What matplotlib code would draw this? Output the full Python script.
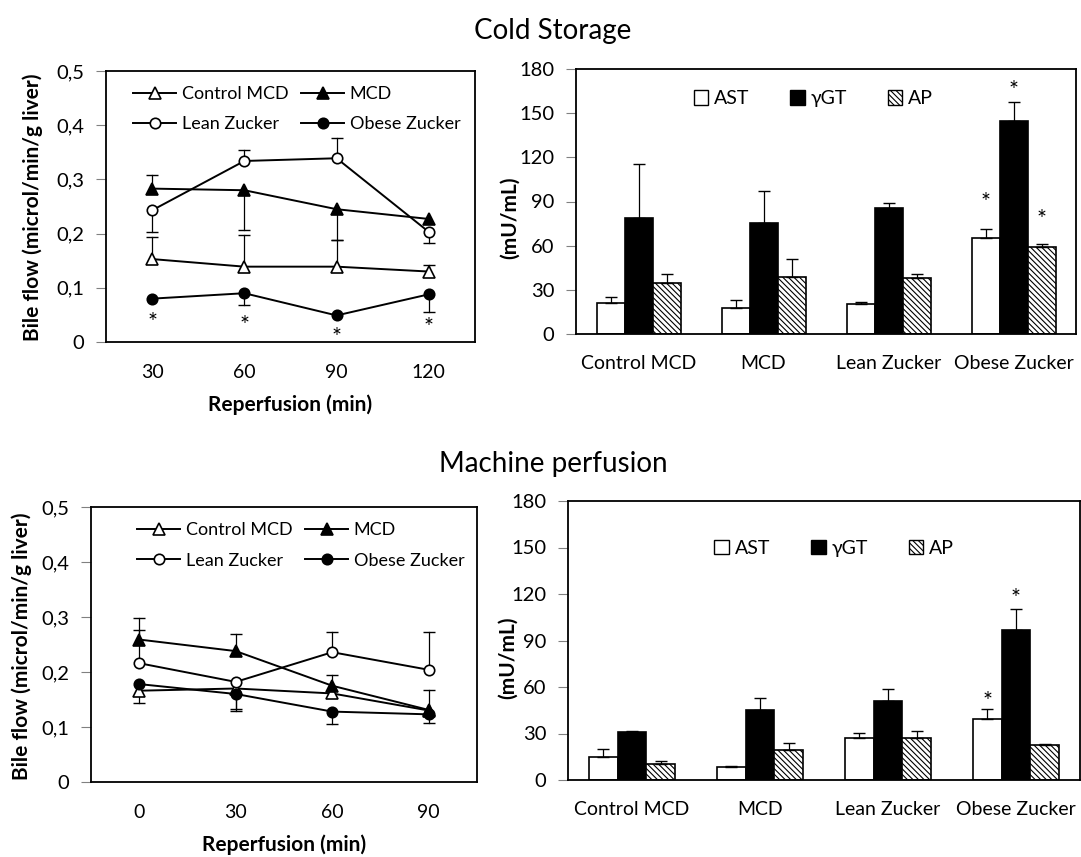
import numpy as np
import matplotlib
matplotlib.use("Agg")
import matplotlib.pyplot as plt
from matplotlib.ticker import FuncFormatter

plt.rcParams['font.family'] = ['Lato', 'DejaVu Sans']
plt.rcParams['hatch.linewidth'] = 0.8

# =========================
# DATA
# =========================
groups = ["Control MCD", "MCD", "Lean Zucker", "Obese Zucker"]
line_markers = {"Control MCD": ("^", "white"), "MCD": ("^", "black"),
                "Lean Zucker": ("o", "white"), "Obese Zucker": ("o", "black")}

# Cold storage bile flow
cs_times = ["30", "60", "90", "120"]
cs_flow = {
    "Control MCD": [0.153, 0.139, 0.139, 0.130],
    "MCD": [0.283, 0.280, 0.245, 0.227],
    "Lean Zucker": [0.243, 0.334, 0.339, 0.203],
    "Obese Zucker": [0.080, 0.090, 0.049, 0.088],
}
cs_err_up = {
    "Control MCD": [0.040, 0.058, 0.049, 0.012],
    "MCD": [0.025, 0.0, 0.0, 0.0],
    "Lean Zucker": [0.0, 0.021, 0.037, 0.0],
    "Obese Zucker": [0.0, 0.0, 0.0, 0.0],
}
cs_err_down = {
    "Control MCD": [0.0, 0.0, 0.0, 0.0],
    "MCD": [0.0, 0.073, 0.057, 0.0],
    "Lean Zucker": [0.040, 0.0, 0.0, 0.020],
    "Obese Zucker": [0.0, 0.021, 0.0, 0.033],
}
cs_star_y = [0.046, 0.040, 0.018, 0.037]

# Machine perfusion bile flow
mp_times = ["0", "30", "60", "90"]
mp_flow = {
    "Control MCD": [0.166, 0.170, 0.161, 0.130],
    "MCD": [0.259, 0.238, 0.175, 0.131],
    "Lean Zucker": [0.216, 0.182, 0.236, 0.204],
    "Obese Zucker": [0.178, 0.160, 0.128, 0.123],
}
mp_err_up = {
    "Control MCD": [0.0, 0.0, 0.0, 0.0],
    "MCD": [0.039, 0.031, 0.020, 0.037],
    "Lean Zucker": [0.060, 0.0, 0.037, 0.069],
    "Obese Zucker": [0.0, 0.0, 0.0, 0.0],
}
mp_err_down = {
    "Control MCD": [0.022, 0.0, 0.0, 0.0],
    "MCD": [0.0, 0.0, 0.0, 0.0],
    "Lean Zucker": [0.0, 0.052, 0.0, 0.0],
    "Obese Zucker": [0.0, 0.027, 0.022, 0.016],
}

# Enzymes (mU/mL)
enzymes = ["AST", "γGT", "AP"]
cs_enz = {
    "AST": [20.9, 17.9, 20.2, 65.5],
    "γGT": [78.7, 75.5, 85.3, 144.4],
    "AP": [34.9, 38.8, 38.1, 59.2],
}
cs_enz_err = {
    "AST": [4.3, 5.5, 1.6, 5.5],
    "γGT": [36.7, 21.8, 4.0, 13.0],
    "AP": [6.1, 12.0, 2.9, 2.0],
}
cs_enz_star = {"AST": [None, None, None, 93], "γGT": [None, None, None, 169],
               "AP": [None, None, None, 81.5]}

mp_enz = {
    "AST": [15.0, 8.6, 27.3, 39.5],
    "γGT": [31.1, 44.9, 50.7, 96.9],
    "AP": [10.3, 19.3, 27.3, 22.6],
}
mp_enz_err = {
    "AST": [4.8, 0.6, 3.2, 6.0],
    "γGT": [0.7, 7.7, 8.1, 13.7],
    "AP": [1.9, 4.3, 4.5, 0.8],
}
mp_enz_star = {"AST": [None, None, None, 54], "γGT": [None, None, None, 120.5],
               "AP": [None, None, None, None]}

W, H = 1081, 857


def px_axes(fig, left, top, right, bottom):
    return fig.add_axes([left / W, 1 - bottom / H, (right - left) / W, (bottom - top) / H])


def style_axes(ax, tick_len):
    for sp in ax.spines.values():
        sp.set_color("black")
        sp.set_linewidth(1.3)
    ax.tick_params(axis="y", direction="out", length=tick_len, width=0.8, color="#808080",
                   labelsize=14.5, pad=8.5)
    ax.tick_params(axis="x", length=0, labelsize=14)


def comma_fmt(v, pos):
    if abs(v) < 1e-9:
        return "0"
    return f"{v:.1f}".replace(".", ",")


def star(ax, x, y):
    ax.annotate("*", (x, y), xytext=(0, -4), textcoords="offset points",
                ha="center", va="center", fontsize=17)


def line_panel(ax, times, flow, err_up, err_down, star_y=None, legend_anchor=(0.07, 0.96)):
    x = np.arange(len(times))
    handles = {}
    for name in groups:
        y = np.array(flow[name])
        up = np.array(err_up[name])
        dn = np.array(err_down[name])
        for xi, yi, u, d in zip(x, y, up, dn):
            if u > 0:
                ax.plot([xi, xi], [yi, yi + u], color="black", lw=0.9, zorder=2)
                ax.plot(xi, yi + u, marker="_", ms=9, mew=1.0, color="black", zorder=2)
            if d > 0:
                ax.plot([xi, xi], [yi, yi - d], color="black", lw=0.9, zorder=2)
                ax.plot(xi, yi - d, marker="_", ms=9, mew=1.0, color="black", zorder=2)
        m, fc = line_markers[name]
        handles[name], = ax.plot(x, y, color="black", lw=1.4, marker=m,
                                 ms=8 if m == "^" else 7.5,
                                 mfc=fc, mec="black", mew=1.2, label=name, zorder=3)
    if star_y is not None:
        for xi, sy in zip(x, star_y):
            star(ax, xi, sy)
    ax.set_xlim(-0.5, len(times) - 0.5)
    ax.set_ylim(0, 0.5)
    ax.set_yticks(np.arange(0, 0.51, 0.1))
    ax.yaxis.set_major_formatter(FuncFormatter(comma_fmt))
    ax.set_xticks(x)
    ax.set_xticklabels(times)
    style_axes(ax, 7)
    ax.tick_params(axis="x", pad=15.5)
    ax.set_xlabel("Reperfusion (min)", fontsize=15, fontweight="bold", labelpad=10)
    # legend filled row by row: Control MCD, MCD / Lean Zucker, Obese Zucker
    order = ["Control MCD", "Lean Zucker", "MCD", "Obese Zucker"]
    ax.legend([handles[n] for n in order], order, loc="upper left", bbox_to_anchor=legend_anchor,
              ncol=2, frameon=False, fontsize=13, handlelength=2.4, handletextpad=0.3,
              columnspacing=0.7, labelspacing=0.8, borderpad=0, borderaxespad=0)


def bar_panel(ax, values, errs, stars, legend_anchor):
    x = np.arange(len(groups))
    w = 0.224
    styles = {"AST": dict(color="white", hatch=None),
              "γGT": dict(color="black", hatch=None),
              "AP": dict(color="white", hatch="\\\\\\\\\\\\")}
    for i, enz in enumerate(enzymes):
        pos = x + (i - 1) * w
        st = styles[enz]
        ax.bar(pos, values[enz], width=w, color=st["color"], edgecolor="black",
               linewidth=1.2, hatch=st["hatch"], label=enz, zorder=2)
        ax.errorbar(pos, values[enz], yerr=[np.zeros(len(groups)), errs[enz]], fmt="none",
                    ecolor="black", elinewidth=0.9, capsize=4.5, capthick=1.0, zorder=3)
        for p, s in zip(pos, stars[enz]):
            if s is not None:
                star(ax, p, s)
    ax.set_xlim(-0.5, len(groups) - 0.5)
    ax.set_ylim(0, 180)
    ax.set_yticks(np.arange(0, 181, 30))
    ax.set_xticks(x)
    ax.set_xticklabels(groups)
    style_axes(ax, 7)
    ax.tick_params(axis="x", pad=15)
    leg = ax.legend(loc="upper left", bbox_to_anchor=legend_anchor, ncol=3, frameon=False,
                    fontsize=14, handlelength=0.75, handleheight=0.75, handletextpad=0.3,
                    columnspacing=2.1, borderpad=0, borderaxespad=0)
    for h in leg.legend_handles:
        h.set_linewidth(1.0)


fig = plt.figure(figsize=(W / 100, H / 100), dpi=100)

# Cold storage
ax1 = px_axes(fig, 106, 71, 475, 342)
line_panel(ax1, cs_times, cs_flow, cs_err_up, cs_err_down, cs_star_y, legend_anchor=(0.073, 0.945))
ax2 = px_axes(fig, 576, 69, 1076, 334)
bar_panel(ax2, cs_enz, cs_enz_err, cs_enz_star, legend_anchor=(0.235, 0.92))

# Machine perfusion
ax3 = px_axes(fig, 91, 507, 477, 782)
line_panel(ax3, mp_times, mp_flow, mp_err_up, mp_err_down, None, legend_anchor=(0.119, 0.945))
ax4 = px_axes(fig, 568, 501, 1080, 780)
bar_panel(ax4, mp_enz, mp_enz_err, mp_enz_star, legend_anchor=(0.286, 0.86))

ylab = "Bile flow (microl/min/g liver)"
fig.text(33 / W, 1 - 207 / H, ylab, rotation=90, ha="center", va="center",
         fontsize=15, fontweight="bold")
fig.text(22 / W, 1 - 646 / H, ylab, rotation=90, ha="center", va="center",
         fontsize=15, fontweight="bold")
fig.text(510 / W, 1 - 218 / H, "(mU/mL)", rotation=90, ha="center", va="center",
         fontsize=15, fontweight="bold")
fig.text(508 / W, 1 - 658 / H, "(mU/mL)", rotation=90, ha="center", va="center",
         fontsize=15, fontweight="bold")

fig.text(553 / W, 1 - 31 / H, "Cold Storage", ha="center", va="center", fontsize=20)
fig.text(553 / W, 1 - 464 / H, "Machine perfusion", ha="center", va="center", fontsize=20)

fig.savefig("out.png", dpi=100)
